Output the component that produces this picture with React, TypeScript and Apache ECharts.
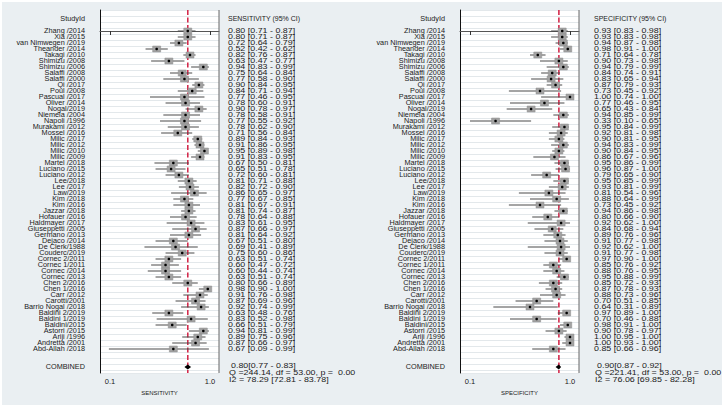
import React, { useEffect, useRef } from "react";
import * as echarts from "echarts";

const studies = [
  "Zhang /2014", "Xia /2015", "van Nimwegen /2019", "Theander /2014", "Takagi /2010",
  "Shimizu /2008", "Shimizu /2006", "Salaffi /2008", "Salaffi /2000", "Qi /2017",
  "Poul /2008", "Pascual /2017", "Oliver /2014", "Nogal/2019", "Niemela /2004",
  "Napoli /1996", "Murakami /2012", "Mossel /2016", "Milic /2017", "Milic /2012",
  "Milic /2010", "Milic /2009", "Martel /2018", "Luciano /2015", "Luciano /2012",
  "Lee/2018", "Lee /2017", "Law/2019", "Kim /2018", "Kim /2016",
  "Jazzar /2018", "Hofauer /2016", "Haldmayer /2017", "Giuseppetti /2005", "Germano /2013",
  "Dejaco /2014", "De Clerk/1988", "Couderc/2019", "Cornec 2/2011", "Cornec 1/2011",
  "Cornec /2014", "Cornec /2013", "Chen 2/2016", "Chen 1/2016", "Carr /2012",
  "Carotti/2001", "Barrio Nogal /2018", "Baldini 2/2019", "Baldini 1/2019", "Baldini/2015",
  "Astorri /2015", "Ariji /1996", "Andretta /2001", "Abd-Allah /2018",
];

const sensEst = [0.80, 0.80, 0.72, 0.52, 0.82, 0.63, 0.94, 0.75, 0.77, 0.90, 0.84, 0.77, 0.78, 0.90, 0.78, 0.77, 0.78, 0.71, 0.89, 0.91, 0.95, 0.91, 0.67, 0.65, 0.72, 0.81, 0.82, 0.86, 0.77, 0.81, 0.81, 0.78, 0.83, 0.87, 0.81, 0.67, 0.69, 0.75, 0.63, 0.60, 0.60, 0.63, 0.80, 0.98, 0.91, 0.87, 0.92, 0.63, 0.83, 0.66, 0.94, 0.89, 0.87, 0.67];
const sensLo = [0.71, 0.71, 0.64, 0.42, 0.76, 0.47, 0.83, 0.64, 0.58, 0.84, 0.71, 0.46, 0.60, 0.78, 0.58, 0.55, 0.62, 0.56, 0.84, 0.86, 0.89, 0.83, 0.50, 0.51, 0.60, 0.71, 0.72, 0.65, 0.67, 0.67, 0.74, 0.64, 0.61, 0.66, 0.64, 0.51, 0.41, 0.60, 0.51, 0.47, 0.44, 0.51, 0.66, 0.90, 0.76, 0.69, 0.74, 0.48, 0.52, 0.51, 0.81, 0.75, 0.66, 0.09];
const sensHi = [0.87, 0.87, 0.79, 0.62, 0.87, 0.77, 0.99, 0.84, 0.90, 0.95, 0.94, 0.95, 0.91, 0.97, 0.91, 0.92, 0.90, 0.84, 0.93, 0.95, 0.98, 0.95, 0.81, 0.78, 0.81, 0.88, 0.90, 0.97, 0.85, 0.91, 0.87, 0.88, 0.95, 0.97, 0.92, 0.80, 0.89, 0.86, 0.74, 0.72, 0.74, 0.74, 0.89, 1.00, 0.98, 0.96, 0.99, 0.76, 0.98, 0.79, 0.99, 0.96, 0.97, 0.99];

const specEst = [0.93, 0.93, 0.94, 0.98, 0.71, 0.90, 0.94, 0.84, 0.83, 0.87, 0.73, 1.00, 0.77, 0.65, 0.94, 0.33, 0.95, 0.92, 0.90, 0.94, 0.90, 0.86, 0.95, 0.96, 0.79, 0.95, 0.93, 0.81, 0.88, 0.73, 0.94, 0.80, 0.92, 0.84, 0.89, 0.91, 0.92, 0.91, 0.97, 0.85, 0.88, 0.95, 0.85, 0.87, 0.88, 0.70, 0.64, 0.97, 0.70, 0.98, 0.90, 1.00, 1.00, 0.85];
const specLo = [0.83, 0.83, 0.87, 0.91, 0.64, 0.73, 0.79, 0.74, 0.65, 0.79, 0.45, 0.74, 0.46, 0.43, 0.85, 0.10, 0.84, 0.81, 0.81, 0.83, 0.84, 0.67, 0.86, 0.87, 0.65, 0.85, 0.81, 0.54, 0.64, 0.45, 0.86, 0.66, 0.62, 0.68, 0.76, 0.77, 0.62, 0.77, 0.90, 0.76, 0.76, 0.88, 0.72, 0.78, 0.73, 0.51, 0.31, 0.89, 0.46, 0.91, 0.78, 0.95, 0.93, 0.66];
const specHi = [0.98, 0.98, 0.98, 1.00, 0.78, 0.98, 0.99, 0.91, 0.94, 0.93, 0.92, 1.00, 0.95, 0.84, 0.99, 0.65, 0.99, 0.98, 0.95, 0.99, 0.95, 0.96, 0.99, 1.00, 0.90, 0.99, 0.99, 0.96, 0.99, 0.92, 0.98, 0.90, 1.00, 0.94, 0.96, 0.98, 1.00, 0.98, 1.00, 0.92, 0.95, 0.99, 0.93, 0.93, 0.96, 0.85, 0.89, 1.00, 0.88, 1.00, 0.97, 1.00, 1.00, 0.96];

const sensCombined = [0.80, 0.77, 0.83];
const specCombined = [0.90, 0.87, 0.92];
const sensHet = { q: "244.14", df: "53.00", p: "0.00", i2: "78.29", i2lo: "72.81", i2hi: "83.78" };
const specHet = { q: "221.41", df: "53.00", p: "0.00", i2: "76.06", i2lo: "69.85", i2hi: "82.28" };

const axisTicks = [0.1, 1.0];
const panelTitles = ["SENSITIVITY", "SPECIFICITY"];

const FONT = "'Liberation Sans', Arial, Helvetica, sans-serif";
const TXT = "#1a1a1a";
const COMB_ROW = 56;
const Y_MIN = -3.5;
const Y_MAX = 57;

const fmt = (v: number) => v.toFixed(2);

function txt(x: number, y: number, text: string, align: string, size: number, sy = 1) {
  return {
    type: "text",
    x,
    y,
    scaleY: sy,
    style: {
      text,
      align,
      verticalAlign: "middle",
      textAlign: align,
      textVerticalAlign: "middle",
      fontSize: size,
      fontFamily: FONT,
      fill: TXT,
    },
  };
}

function panel(p: number) {
  const off = p * 360;
  const nameX = 85 + off;
  const valX = 228 + off + (p ? 6 : 0);
  const est = p ? specEst : sensEst;
  const lo = p ? specLo : sensLo;
  const hi = p ? specHi : sensHi;
  const comb = p ? specCombined : sensCombined;
  const het = p ? specHet : sensHet;

  const rows = {
    type: "custom",
    xAxisIndex: p,
    yAxisIndex: p,
    z: 5,
    clip: false,
    encode: { x: [1, 2, 3], y: 0 },
    data: studies.map((_, i) => [i, est[i], lo[i], hi[i]]),
    renderItem: (_params: any, api: any) => {
      const i = api.value(0);
      const e = api.value(1);
      const l = api.value(2);
      const h = api.value(3);
      const pe = api.coord([e, i]);
      const pl = api.coord([l, i]);
      const ph = api.coord([h, i]);
      const y = pe[1];
      return {
        type: "group",
        children: [
          { type: "line", shape: { x1: pl[0], y1: y, x2: ph[0], y2: y }, style: { stroke: "#4a4a4a", lineWidth: 1 } },
          { type: "rect", shape: { x: pe[0] - 4, y: y - 3, width: 8, height: 6 }, style: { fill: "#a3a3a3", stroke: "#8f8f8f", lineWidth: 0.5 } },
          { type: "circle", shape: { cx: pe[0], cy: y, r: 1.3 }, style: { fill: "#000" } },
          txt(nameX, y, studies[i], "right", 7.3, 0.9),
          txt(valX, y, `${fmt(e)} [${fmt(l)} - ${fmt(h)}]`, "left", 8.9, 0.75),
        ],
      };
    },
  };

  const combined = {
    type: "custom",
    xAxisIndex: p,
    yAxisIndex: p,
    z: 6,
    clip: false,
    encode: { x: [1, 2, 3], y: 0 },
    data: [[COMB_ROW, comb[0], comb[1], comb[2]]],
    renderItem: (_params: any, api: any) => {
      const r = api.value(0);
      const pe = api.coord([api.value(1), r]);
      const pl = api.coord([api.value(2), r]);
      const ph = api.coord([api.value(3), r]);
      const y = pe[1];
      return {
        type: "group",
        children: [
          {
            type: "polygon",
            shape: { points: [[pl[0], y], [pe[0], y - 2.5], [ph[0], y], [pe[0], y + 2.5]] },
            style: { fill: "#000" },
          },
          txt(nameX, y, "COMBINED", "right", 7.3, 0.9),
          txt(valX + 3, y - 1, `${fmt(api.value(1))}[${fmt(api.value(2))} - ${fmt(api.value(3))}]`, "left", 8.9, 0.75),
          txt(valX + 1, y + 6, `Q =${het.q}, df = ${het.df}, p =  ${het.p}`, "left", 8.9, 0.75),
          txt(valX + 1, y + 13, `I2 = ${het.i2} [${het.i2lo} - ${het.i2hi}]`, "left", 8.9, 0.75),
        ],
      };
    },
  };

  const refLine = {
    type: "line",
    xAxisIndex: p,
    yAxisIndex: p,
    z: 4,
    symbol: "none",
    silent: true,
    data: [[comb[0], Y_MIN], [comb[0], Y_MAX]],
    lineStyle: { color: "#d42a4c", width: 1.6, type: [5, 2.5] },
  };

  return [rows, combined, refLine];
}

export default function App() {
  const ref = useRef<HTMLDivElement>(null);
  useEffect(() => {
    if (!ref.current) return;
    const chart = echarts.init(ref.current, undefined, { renderer: "svg" });
    const plotH = (Y_MAX - Y_MIN) * 6;
    const grids = [0, 1].map((p) => ({
      left: 100 + p * 360,
      top: 10,
      width: 119,
      height: plotH,
      show: true,
      backgroundColor: "#ffffff",
      borderWidth: 0,
    }));
    const xAxes = [0, 1].map((p) => ({
      type: "value",
      gridIndex: p,
      min: 0.01,
      max: 1.081,
      name: panelTitles[p],
      nameLocation: "middle",
      nameGap: 14,
      nameTextStyle: { fontSize: 6, fontFamily: FONT, color: TXT },
      axisLine: { show: true, lineStyle: { color: "#555", width: 1 } },
      axisTick: { show: true, customValues: axisTicks, length: 4, lineStyle: { color: "#333" } },
      axisLabel: {
        show: true,
        customValues: axisTicks,
        formatter: (v: number) => v.toFixed(1),
        fontSize: 7.5,
        fontFamily: FONT,
        color: TXT,
        margin: 4,
      },
      splitLine: { show: false },
    }));
    const yAxes = [0, 1].map((p) => ({
      type: "value",
      gridIndex: p,
      inverse: true,
      min: Y_MIN,
      max: Y_MAX,
      interval: 1,
      axisLine: { show: true, lineStyle: { color: "#111", width: 1 } },
      axisTick: { show: false },
      axisLabel: { show: false },
      splitLine: { show: true, lineStyle: { color: "#e3e8eb", width: 1 } },
    }));
    const graphic: any[] = [];
    [0, 1].forEach((p) => {
      const off = p * 360;
      graphic.push({ type: "line", z: 10, shape: { x1: 219 + off, y1: 10, x2: 219 + off, y2: 10 + plotH }, style: { stroke: "#666", lineWidth: 1 } });
      graphic.push(txt(85 + off, 19, "StudyId", "right", 7.3, 0.9));
      graphic.push(txt(228 + off + (p ? 6 : 0), 19, `${panelTitles[p]} (95% CI)`, "left", 7, 0.9));
    });
    chart.setOption({
      animation: false,
      backgroundColor: "#eaeff2",
      grid: grids,
      xAxis: xAxes,
      yAxis: yAxes,
      graphic,
      series: [...panel(0), ...panel(1)],
    });
    return () => chart.dispose();
  }, []);
  return (
    <div style={{ position: "absolute", left: 0, top: 0, width: 724, height: 407 }}>
      <div ref={ref} style={{ width: 724, height: 407 }} />
      <div
        style={{
          position: "absolute",
          left: 0,
          top: 0,
          width: 724,
          height: 407,
          boxSizing: "border-box",
          border: "2px solid #ffffff",
          pointerEvents: "none",
        }}
      />
    </div>
  );
}
